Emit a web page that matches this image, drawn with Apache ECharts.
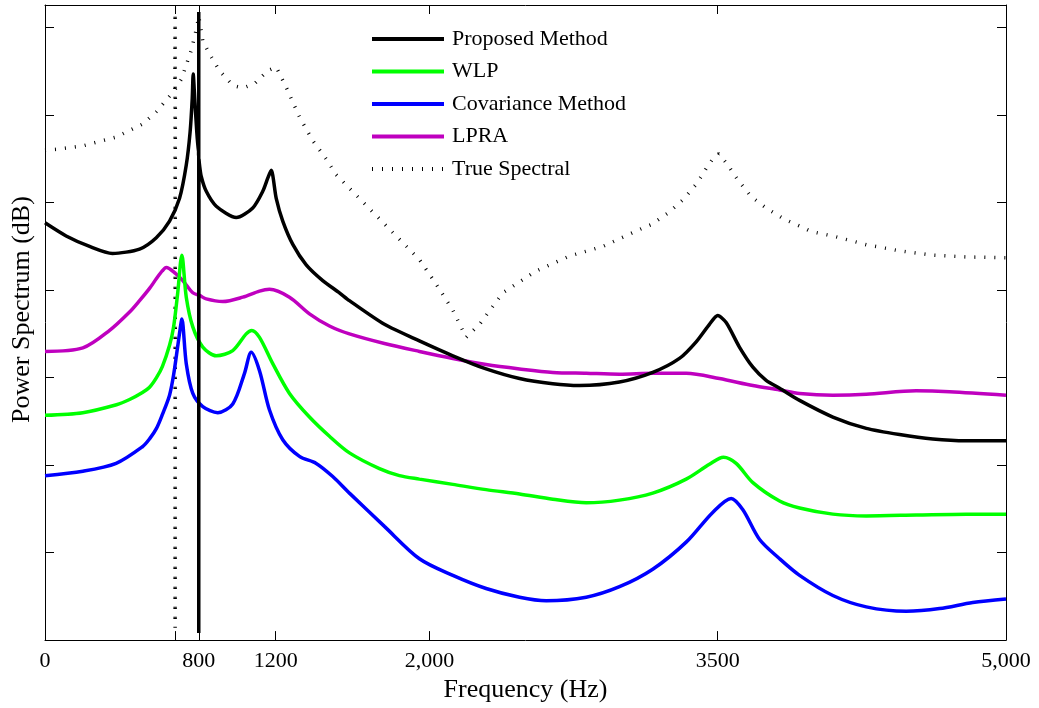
<!DOCTYPE html>
<html>
<head>
<meta charset="utf-8">
<script src="https://cdn.jsdelivr.net/npm/echarts@6/dist/echarts.min.js"></script>
<style>html,body{margin:0;padding:0;background:#fff;}#chart{width:1039px;height:708px;}</style>
</head>
<body>
<div id="chart"></div>
<script>
// ---- data (frequency in Hz, power in dB) ----
const proposedFreq = [0,110,232,351,492,579,648,700,735,755,766,771,780,790,799,800,800,801,804,813,839,891,995,1081,1133,1159,1177,1203,1237,1290,1359,1445,1532,1584,1766,1948,2122,2295,2469,2642,2781,2989,3162,3301,3388,3457,3500,3544,3613,3683,3752,3822,3926,4099,4273,4446,4619,4793,5000];
const proposedDb   = [-22.3,-23.8,-25.0,-25.8,-25.3,-24.0,-22.1,-19.5,-15.7,-11.9,-8.1,-5.3,-8.5,-12.0,-14.6,1.8,-69.2,-15.0,-15.7,-17.0,-18.7,-20.4,-21.7,-20.6,-18.7,-17.2,-16.3,-19.5,-22.1,-24.8,-27.1,-28.9,-30.3,-31.2,-33.9,-35.8,-37.5,-39.0,-40.1,-40.7,-40.9,-40.5,-39.4,-37.8,-35.9,-33.9,-32.9,-33.7,-36.5,-38.8,-40.3,-41.2,-42.6,-44.5,-45.8,-46.5,-47.0,-47.2,-47.2];

const wlpFreq = [0,197,372,440,507,544,580,611,648,669,690,712,735,769,821,891,977,1047,1076,1116,1185,1272,1376,1480,1584,1740,1844,1948,2122,2295,2469,2642,2816,2989,3162,3336,3457,3530,3596,3683,3822,3926,4099,4273,4533,4793,5000];
const wlpDb   = [-44.3,-44.0,-43.1,-42.5,-41.7,-41.1,-40.0,-38.7,-36.3,-34.2,-30.4,-26.0,-30.8,-34.2,-36.5,-37.5,-36.9,-35.0,-34.6,-35.4,-38.4,-41.8,-44.5,-46.7,-48.6,-50.4,-51.2,-51.6,-52.2,-52.8,-53.3,-53.9,-54.3,-54.0,-53.2,-51.6,-49.9,-49.1,-49.8,-52.0,-54.1,-54.9,-55.6,-55.8,-55.7,-55.6,-55.6];

const covFreq = [0,197,370,507,544,580,611,648,669,690,702,712,735,769,821,899,977,1038,1073,1116,1168,1237,1324,1411,1497,1584,1766,1948,2122,2295,2469,2608,2816,2989,3162,3336,3474,3570,3631,3718,3822,3926,4099,4273,4481,4654,4827,5000];
const covDb   = [-51.2,-50.7,-49.8,-47.9,-47.0,-45.8,-44.2,-42.0,-39.7,-36.5,-34.6,-33.3,-38.4,-41.8,-43.3,-44.0,-43.0,-39.5,-37.1,-39.2,-43.7,-47.1,-49.0,-49.8,-51.3,-53.2,-57.0,-60.7,-62.6,-64.1,-65.1,-65.5,-65.1,-63.9,-61.9,-58.8,-55.4,-53.8,-55.1,-58.5,-60.7,-62.6,-64.9,-66.2,-66.7,-66.4,-65.7,-65.3];

const lpraFreq = [0,197,336,440,492,544,579,610,631,680,717,769,804,839,925,1029,1116,1168,1272,1376,1480,1584,1766,1948,2122,2295,2469,2642,2816,2989,3162,3336,3509,3683,3822,3926,4099,4273,4533,4706,5000];
const lpraDb   = [-37.0,-36.6,-34.6,-32.5,-31.2,-29.8,-28.7,-27.8,-27.4,-28.1,-28.9,-30.3,-30.6,-31.0,-31.3,-30.8,-30.1,-29.9,-30.8,-32.7,-34.1,-35.0,-36.1,-37.0,-37.8,-38.5,-39.0,-39.4,-39.5,-39.6,-39.5,-39.5,-40.1,-40.9,-41.4,-41.8,-42.0,-41.9,-41.5,-41.6,-42.0];

const trueFreq = [0,58,197,370,509,579,665,676,677,677,678,709,761,787,800,821,856,908,977,1029,1090,1159,1203,1255,1324,1393,1463,1515,1948,2035,2122,2191,2261,2382,2556,2729,2902,3110,3154,3240,3318,3388,3443,3474,3505,3547,3605,3674,3752,3848,3940,3986,4099,4273,4446,4619,4793,5000];
const trueDb   = [-14.0,-13.9,-13.5,-12.5,-11.0,-9.6,-7.4,-7.1,1.7,-68.6,-7.0,-5.9,-2.6,-0.2,1.3,-1.5,-3.0,-4.9,-6.6,-6.9,-6.4,-4.9,-4.5,-6.8,-10.2,-12.9,-15.0,-16.8,-26.5,-29.3,-32.3,-35.4,-33.9,-30.3,-27.8,-26.1,-25.0,-22.9,-22.5,-21.2,-19.7,-17.9,-16.0,-15.0,-14.4,-15.5,-17.4,-19.3,-20.6,-21.9,-22.8,-23.3,-23.8,-24.8,-25.5,-26.0,-26.2,-26.3];

const xTickValues  = [0, 680, 800, 1200, 2000, 3500, 5000];
const xLabelValues = [0, 800, 1200, 2000, 3500, 5000];
const xLabelTexts  = ['0', '800', '1200', '2,000', '3500', '5,000'];

const seriesNames = ['Proposed Method', 'WLP', 'Covariance Method', 'LPRA', 'True Spectral'];

function pairs(xs, ys) { return xs.map((x, i) => [x, ys[i]]); }

const FONT = 'Liberation Serif';
const chart = echarts.init(document.getElementById('chart'), null, { renderer: 'canvas' });

const tickStyle = { show: true, inside: true, length: 9, lineStyle: { color: '#000', width: 1 } };
const lineAxis = { show: true, onZero: false, lineStyle: { color: '#000', width: 1 } };

function lineSeries(name, data, color, extra) {
  return Object.assign({
    name: name, type: 'line', data: data, symbol: 'none', showSymbol: false,
    smooth: 0.3, animation: false,
    lineStyle: { color: color, width: 3.5 },
    itemStyle: { color: color },
    emphasis: { disabled: true }
  }, extra || {});
}

chart.setOption({
  animation: false,
  backgroundColor: '#fff',
  grid: { left: 45, right: 33, top: 5, bottom: 63, containLabel: false },
  legend: {
    data: seriesNames,
    orient: 'vertical',
    left: 370, top: 28, padding: 0,
    itemWidth: 72, itemHeight: 14, itemGap: 10.5,
    selectedMode: false,
    itemStyle: { opacity: 0 },
    lineStyle: { width: 4 },
    textStyle: { fontFamily: FONT, fontSize: 22, color: '#000', lineHeight: 22, padding: [0, 0, 0, 3] }
  },
  xAxis: [
    {
      type: 'value', min: 0, max: 5000, position: 'bottom',
      name: 'Frequency (Hz)', nameLocation: 'middle', nameGap: 31,
      nameTextStyle: { fontFamily: FONT, fontSize: 26, color: '#000' },
      axisLine: lineAxis,
      axisTick: Object.assign({ customValues: xTickValues }, tickStyle),
      axisLabel: {
        customValues: xLabelValues, showMinLabel: true, showMaxLabel: true,
        margin: 10, fontFamily: FONT, fontSize: 22, color: '#000',
        formatter: function (v) { const i = xLabelValues.indexOf(v); return i >= 0 ? xLabelTexts[i] : ''; }
      },
      splitLine: { show: false }
    },
    {
      type: 'value', min: 0, max: 5000, position: 'top',
      axisLine: lineAxis,
      axisTick: Object.assign({ customValues: xTickValues }, tickStyle),
      axisLabel: { show: false },
      splitLine: { show: false }
    }
  ],
  yAxis: [
    {
      type: 'value', min: -70, max: 2.6, interval: 10, position: 'left',
      name: 'Power Spectrum (dB)', nameLocation: 'middle', nameGap: 10,
      nameTextStyle: { fontFamily: FONT, fontSize: 26, color: '#000', padding: [0, 0, 0, 26] },
      axisLine: lineAxis, axisTick: tickStyle,
      axisLabel: { show: false }, splitLine: { show: false }
    },
    {
      type: 'value', min: -70, max: 2.6, interval: 10, position: 'right',
      axisLine: lineAxis, axisTick: tickStyle,
      axisLabel: { show: false }, splitLine: { show: false }
    }
  ],
  series: [
    lineSeries('True Spectral', pairs(trueFreq, trueDb), '#000', { lineStyle: { color: '#000', width: 3.5, type: [1, 9] }, smooth: false }),
    lineSeries('LPRA', pairs(lpraFreq, lpraDb), '#bf00bf'),
    lineSeries('Covariance Method', pairs(covFreq, covDb), '#0000ff'),
    lineSeries('WLP', pairs(wlpFreq, wlpDb), '#00ff00'),
    lineSeries('Proposed Method', pairs(proposedFreq, proposedDb), '#000', { smooth: 0.25 })
  ]
});
</script>
</body>
</html>
